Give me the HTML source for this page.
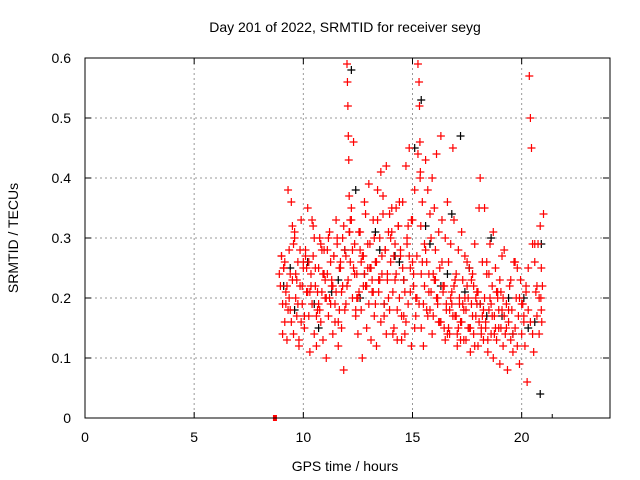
<!DOCTYPE html>
<html><head><meta charset="utf-8"><style>
body{margin:0;background:#fff;}
svg{display:block;font-family:"Liberation Sans",sans-serif;}
</style></head><body>
<svg id="chart" width="640" height="480">
<rect width="640" height="480" fill="#fff"/>
<text x="345" y="32" font-size="14" text-anchor="middle">Day 201 of 2022, SRMTID for receiver seyg</text>
<text x="345" y="471" font-size="14" text-anchor="middle">GPS time / hours</text>
<text x="18" y="238" font-size="14" text-anchor="middle" transform="rotate(-90 18 238)">SRMTID / TECUs</text>
<g id="grid"></g>
<g id="black"></g>
<g id="red"></g>
<rect x="85" y="58" width="525" height="360" fill="none" stroke="#000" stroke-width="1"/>
<g id="axes"></g>
</svg>
<script>
const xTicks=[0,5,10,15,20];
const yTicks=[0,0.1,0.2,0.3,0.4,0.5,0.6];
const yTickLabels=["0","0.1","0.2","0.3","0.4","0.5","0.6"];
const redTimes=[8.9,8.95,9.0,9.05,9.1,9.15,9.2,9.25,9.3,9.35,9.4,9.45,9.5,9.55,9.6,9.65,9.7,9.75,9.8,9.85,9.9,9.95,10.0,10.05,10.1,10.15,10.2,10.25,10.3,10.35,10.4,10.45,10.5,10.55,10.6,10.65,10.7,10.75,10.8,10.85,10.9,10.95,11.0,11.05,11.1,11.15,11.2,11.25,11.3,11.35,11.4,11.45,11.5,11.55,11.6,11.65,11.7,11.75,11.8,11.85,11.9,11.95,12.0,12.02,12.04,12.06,12.08,12.1,12.12,12.15,12.2,12.25,12.3,12.35,12.4,12.45,12.5,12.55,12.6,12.65,12.7,12.75,12.8,12.85,12.9,12.95,13.0,13.05,13.1,13.15,13.2,13.25,13.3,13.35,13.4,13.45,13.5,13.55,13.6,13.65,13.7,13.75,13.8,13.85,13.9,13.95,14.0,14.05,14.1,14.15,14.2,14.25,14.3,14.35,14.4,14.45,14.5,14.55,14.6,14.65,14.7,14.75,14.8,14.85,14.9,14.95,15.0,15.05,15.1,15.15,15.2,15.25,15.3,15.32,15.34,15.36,15.38,15.4,15.45,15.5,15.55,15.6,15.65,15.7,15.75,15.8,15.85,15.9,15.95,16.0,16.05,16.1,16.15,16.2,16.25,16.3,16.35,16.4,16.45,16.5,16.55,16.6,16.65,16.7,16.75,16.8,16.85,16.9,16.95,17.0,17.05,17.1,17.15,17.2,17.25,17.3,17.35,17.4,17.45,17.5,17.55,17.6,17.65,17.7,17.75,17.8,17.85,17.9,17.95,18.0,18.05,18.1,18.15,18.2,18.25,18.3,18.35,18.4,18.45,18.5,18.55,18.6,18.65,18.7,18.75,18.8,18.85,18.9,18.95,19.0,19.05,19.1,19.15,19.2,19.25,19.3,19.35,19.4,19.45,19.5,19.55,19.6,19.65,19.7,19.75,19.8,19.85,19.9,19.95,20.0,20.05,20.1,20.15,20.2,20.25,20.3,20.35,20.4,20.45,20.5,20.55,20.6,20.65,20.7,20.75,20.8,20.85,20.88,20.9,20.92,20.95,21.0,9.0,9.2,9.4,9.6,9.8,10.0,10.2,10.4,10.6,10.8,11.0,11.2,11.4,11.6,11.8,12.0,12.2,12.4,12.6,12.8,13.0,13.2,13.4,13.6,13.8,14.0,14.2,14.4,14.6,14.8,15.0,15.2,15.4,15.6,15.8,16.0,16.2,16.4,16.6,16.8,17.0,17.2,17.4,17.6,17.8,18.0,18.2,18.4,18.6,18.8,19.0,19.2,19.4,19.6,19.8,20.0,20.2,20.4,20.6,20.8,9.1,9.3,9.5,9.7,9.9,10.1,10.3,10.5,10.7,10.9,11.1,11.3,11.5,11.7,11.9,12.1,12.3,12.5,12.7,12.9,13.1,13.3,13.5,13.7,13.9,14.1,14.3,14.5,14.7,14.9,15.1,15.3,15.5,15.7,15.9,16.1,16.3,16.5,16.7,16.9,17.1,17.3,17.5,17.7,17.9,18.1,18.3,18.5,18.7,18.9,19.1,19.3,19.5,19.7,19.9,20.1,20.3,20.5,20.7,20.9,9.05,9.15,9.25,9.35,9.45,9.55,9.65,9.75,9.85,9.95,10.05,10.15,10.25,10.35,10.45,10.55,10.65,10.75,10.85,10.95,11.05,11.15,11.25,11.35,11.45,11.55,11.65,11.75,11.85,11.95,12.05,12.15,12.25,12.35,12.45,12.55,12.65,12.75,12.85,12.95,13.05,13.15,13.25,13.35,13.45,13.55,13.65,13.75,13.85,13.95,14.05,14.15,14.25,14.35,14.45,14.55,14.65,14.75,14.85,14.95,15.05,15.15,15.25,15.35,15.45,15.55,15.65,15.75,15.85,15.95,16.05,16.15,16.25,16.35,16.45,16.55,16.65,16.75,16.85,16.95,17.05,17.15,17.25,17.35,17.45,17.55,17.65,17.75,17.85,17.95,18.05,18.15,18.25,18.35,18.45,18.55,18.65,18.75,18.85,18.95,19.05,19.15,19.25,19.35,19.45,19.55,19.65,19.75,19.85,19.95,20.05,20.15,20.25,20.35,20.45,20.55,20.65,20.75,20.85,20.95];
const redValues=[0.24,0.22,0.27,0.19,0.25,0.16,0.21,0.13,0.38,0.28,0.18,0.36,0.23,0.14,0.30,0.20,0.17,0.26,0.12,0.22,0.33,0.19,0.25,0.15,0.28,0.21,0.35,0.17,0.11,0.24,0.19,0.27,0.14,0.22,0.12,0.18,0.25,0.30,0.16,0.21,0.13,0.28,0.20,0.10,0.24,0.17,0.31,0.19,0.23,0.14,0.27,0.16,0.21,0.30,0.12,0.18,0.25,0.15,0.22,0.08,0.28,0.19,0.59,0.56,0.52,0.47,0.43,0.37,0.31,0.26,0.33,0.20,0.46,0.29,0.17,0.24,0.14,0.21,0.31,0.18,0.10,0.27,0.36,0.22,0.15,0.25,0.19,0.29,0.13,0.23,0.33,0.17,0.26,0.12,0.38,0.21,0.30,0.16,0.24,0.34,0.19,0.28,0.14,0.23,0.31,0.18,0.26,0.35,0.21,0.15,0.29,0.24,0.13,0.32,0.20,0.27,0.17,0.36,0.23,0.14,0.42,0.29,0.19,0.45,0.25,0.12,0.33,0.22,0.38,0.17,0.27,0.59,0.56,0.52,0.46,0.41,0.32,0.24,0.36,0.19,0.29,0.43,0.26,0.38,0.21,0.34,0.30,0.40,0.24,0.35,0.28,0.44,0.20,0.31,0.25,0.47,0.33,0.22,0.15,0.30,0.19,0.36,0.26,0.14,0.29,0.21,0.45,0.33,0.17,0.24,0.12,0.28,0.20,0.16,0.31,0.23,0.13,0.27,0.18,0.22,0.15,0.25,0.11,0.19,0.24,0.14,0.29,0.17,0.21,0.12,0.35,0.19,0.15,0.26,0.13,0.20,0.16,0.24,0.11,0.18,0.29,0.14,0.22,0.10,0.17,0.25,0.13,0.20,0.15,0.09,0.21,0.27,0.12,0.17,0.14,0.19,0.08,0.16,0.22,0.13,0.18,0.11,0.26,0.15,0.20,0.12,0.17,0.09,0.23,0.14,0.19,0.16,0.12,0.21,0.06,0.18,0.57,0.50,0.45,0.14,0.11,0.26,0.21,0.17,0.29,0.14,0.32,0.20,0.25,0.16,0.22,0.34,0.27,0.19,0.24,0.31,0.13,0.26,0.21,0.33,0.17,0.29,0.23,0.20,0.27,0.16,0.30,0.22,0.35,0.18,0.28,0.24,0.39,0.21,0.33,0.27,0.42,0.30,0.23,0.36,0.17,0.32,0.26,0.20,0.15,0.28,0.18,0.23,0.16,0.21,0.14,0.19,0.17,0.13,0.20,0.15,0.22,0.21,0.17,0.26,0.19,0.15,0.23,0.28,0.18,0.14,0.25,0.19,0.22,0.16,0.29,0.20,0.25,0.18,0.32,0.23,0.16,0.27,0.21,0.30,0.19,0.24,0.28,0.22,0.33,0.26,0.18,0.31,0.25,0.20,0.27,0.22,0.25,0.19,0.23,0.17,0.20,0.14,0.18,0.13,0.16,0.21,0.15,0.19,0.12,0.17,0.14,0.20,0.16,0.13,0.18,0.22,0.15,0.19,0.26,0.23,0.20,0.40,0.35,0.24,0.31,0.21,0.18,0.15,0.23,0.26,0.20,0.17,0.25,0.29,0.22,0.18,0.14,0.26,0.22,0.20,0.16,0.29,0.24,0.19,0.28,0.22,0.17,0.25,0.26,0.22,0.32,0.25,0.21,0.18,0.28,0.24,0.20,0.30,0.26,0.22,0.19,0.29,0.25,0.21,0.32,0.27,0.23,0.33,0.28,0.24,0.20,0.31,0.26,0.22,0.34,0.29,0.25,0.21,0.30,0.26,0.23,0.41,0.37,0.28,0.24,0.34,0.31,0.27,0.35,0.32,0.28,0.25,0.21,0.30,0.27,0.33,0.24,0.20,0.44,0.40,0.26,0.22,0.18,0.24,0.21,0.17,0.23,0.19,0.16,0.26,0.22,0.18,0.15,0.20,0.17,0.23,0.14,0.19,0.16,0.18,0.13,0.20,0.15,0.17,0.12,0.19,0.16,0.14,0.18,0.15,0.13,0.20,0.17,0.14,0.21,0.18,0.15,0.20];
const blackTimes=[9.1,9.6,10.2,10.7,11.3,11.9,12.2,12.4,12.8,13.3,13.7,14.2,14.6,15.1,15.4,15.8,16.3,16.8,17.2,17.6,18.1,18.6,19.1,19.6,20.1,20.6,20.9,20.85,9.4,10.5,11.6,12.6,13.5,14.4,15.6,16.6,17.4,18.4,19.4,20.3];
const blackValues=[0.22,0.18,0.26,0.15,0.21,0.28,0.58,0.38,0.24,0.31,0.19,0.27,0.23,0.45,0.53,0.29,0.22,0.34,0.47,0.25,0.19,0.30,0.17,0.14,0.20,0.16,0.29,0.04,0.25,0.19,0.23,0.20,0.28,0.26,0.32,0.24,0.21,0.17,0.20,0.15];
const NS='http://www.w3.org/2000/svg';
const X0=85,X1=609,Y0=418,Y1=58,XMAX=24,YMAX=0.6;
function xs(t){return X0+(X1-X0)*t/XMAX;}
function ys(v){return Y0-(Y0-Y1)*v/YMAX;}
function mk(tag,attrs){const e=document.createElementNS(NS,tag);for(const k in attrs)e.setAttribute(k,attrs[k]);return e;}
const grid=document.getElementById('grid'),axes=document.getElementById('axes');
xTicks.forEach((t,i)=>{
  if(t>0){const g=mk('line',{x1:xs(t),x2:xs(t),y1:Y1,y2:Y0,stroke:'#999','stroke-dasharray':'2,3'});
  
  
  grid.appendChild(g);}
  const tk=mk('path',{d:`M${xs(t)},${Y0}v-6M${xs(t)},${Y1}v6`,stroke:'#000'});
  
  
  axes.appendChild(tk);
  const l=mk('text',{x:xs(t),y:Y0+24,'font-size':14,'text-anchor':'middle'});l.textContent=String(t);
  
  
  axes.appendChild(l);
});
yTicks.forEach((v,i)=>{
  if(v>0&&v<YMAX){const g=mk('line',{x1:X0,x2:X1,y1:ys(v),y2:ys(v),stroke:'#999','stroke-dasharray':'2,3'});
  
  
  grid.appendChild(g);}
  const tk=mk('path',{d:`M${X0},${ys(v)}h6M${X1},${ys(v)}h-6`,stroke:'#000'});
  
  
  axes.appendChild(tk);
  const l=mk('text',{x:X0-14,y:ys(v)+5,'font-size':14,'text-anchor':'end'});l.textContent=yTickLabels[i];
  
  
  axes.appendChild(l);
});
const mtk=mk('path',{d:`M${xs(21.4)},${Y0}v-4`,stroke:'#000'});


axes.appendChild(mtk);
function plus(g,t,v,c){
  const p=mk('path',{d:`M${xs(t)-4},${ys(v)}h8M${xs(t)},${ys(v)-4}v8`,stroke:c,'stroke-width':1.2});
  
  
  g.appendChild(p);
}
const bg=document.getElementById('black'),rg=document.getElementById('red');
blackTimes.forEach((t,i)=>plus(bg,t,blackValues[i],'#000'));
redTimes.forEach((t,i)=>plus(rg,t,redValues[i],'#f00'));
const sq=mk('rect',{x:xs(8.7)-2,y:Y0-3,width:4,height:6,fill:'#f00'});


rg.appendChild(sq);
</script>
</body></html>
